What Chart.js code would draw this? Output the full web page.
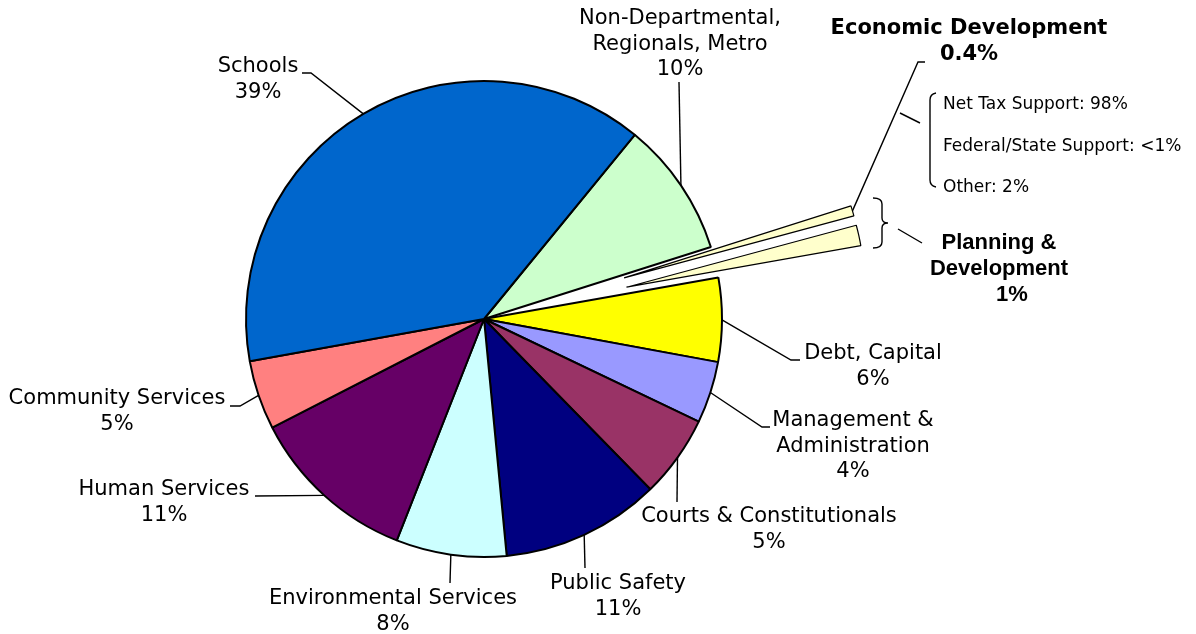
<!DOCTYPE html>
<html>
<head>
<meta charset="utf-8">
<script src="https://cdn.jsdelivr.net/npm/chart.js@4.4.0/dist/chart.umd.min.js"></script>
<style>
  body { margin: 0; background: #fff; }
</style>
</head>
<body>
<canvas id="budgetPie" width="1196" height="634"></canvas>
<script>
// slices, clockwise starting at Non-Departmental
var categories = ['Non-Departmental, Regionals, Metro', 'Economic Development', 'Planning & Development',
  'Debt, Capital', 'Management & Administration', 'Courts & Constitutionals', 'Public Safety',
  'Environmental Services', 'Human Services', 'Community Services', 'Schools'];
var shares = [9.2, 0.7, 1.4, 5.7, 4.2, 5.6, 10.8, 7.5, 11.5, 4.7, 38.8];
var shareLabels = ['10%', '0.4%', '1%', '6%', '4%', '5%', '11%', '8%', '11%', '5%', '39%'];
var sliceColors = ['#CCFFCC', '#FFFFCC', '#FFFFCC', '#FFFF00', '#9999FF', '#993366', '#000080',
  '#CCFFFF', '#660066', '#FF8080', '#0066CC'];
var pulledOut = [0, 1, 1, 0, 0, 0, 0, 0, 0, 0, 0];
var econSources = ['Net Tax Support: 98%', 'Federal/State Support: <1%', 'Other: 2%'];

var PULL = 146;
var normalFont = '21px "DejaVu Sans"';

// label placement: i = slice index, lines of text, text centre, leader bends
var labelLayout = [
  { i: 10, lines: ['Schools', shareLabels[10]], x: 258, y: 67, path: [[311, 73], [302, 73]] },
  { i: 0, lines: ['Non-Departmental,', 'Regionals, Metro', shareLabels[0]], x: 680, y: 19, path: [[679, 82]] },
  { i: 1, lines: ['Economic Development', shareLabels[1]], x: 969, y: 29, bold: true, path: [[918, 62], [925, 62]] },
  { i: 3, lines: ['Debt, Capital', shareLabels[3]], x: 873, y: 354, path: [[791, 360], [800, 360]] },
  { i: 4, lines: ['Management &', 'Administration', shareLabels[4]], x: 853, y: 421, path: [[762, 427], [770, 427]] },
  { i: 5, lines: ['Courts & Constitutionals', shareLabels[5]], x: 769, y: 517, path: [[677, 502]] },
  { i: 6, lines: ['Public Safety', shareLabels[6]], x: 618, y: 584, path: [[585, 568]] },
  { i: 7, lines: ['Environmental Services', shareLabels[7]], x: 393, y: 599, path: [[450, 583]] },
  { i: 8, lines: ['Human Services', shareLabels[8]], x: 164, y: 490, path: [[255, 496]] },
  { i: 9, lines: ['Community Services', shareLabels[9]], x: 117, y: 399, path: [[240, 406], [230, 406]] }
];

function midDir(arc) {
  var p = arc.getProps(['startAngle', 'endAngle'], true);
  var mid = (p.startAngle + p.endAngle) / 2;
  return [Math.cos(mid), Math.sin(mid)];
}

// pulled-out slices: let the arc element draw itself, shifted along its mid angle
var pullPlugin = {
  id: 'pullSlices',
  afterUpdate: function (chart) {
    var meta = chart.getDatasetMeta(0);
    meta.data.forEach(function (arc, i) {
      if (!pulledOut[i] || arc._pulled) return;
      arc._pulled = true;
      var baseDraw = arc.draw;
      arc.draw = function (c, area) {
        var d = midDir(this);
        c.save();
        c.translate(d[0] * PULL, d[1] * PULL);
        baseDraw.call(this, c, area);
        c.restore();
      };
    });
  }
};

var labelPlugin = {
  id: 'sliceLabels',
  afterDatasetsDraw: function (chart) {
    var ctx = chart.ctx;
    var meta = chart.getDatasetMeta(0);
    ctx.save();
    ctx.strokeStyle = '#000';
    ctx.fillStyle = '#000';
    ctx.lineWidth = 1.4;
    ctx.textAlign = 'center';
    ctx.textBaseline = 'middle';

    labelLayout.forEach(function (l) {
      var arc = meta.data[l.i];
      var p = arc.getProps(['x', 'y', 'outerRadius'], true);
      var d = midDir(arc);
      var r = p.outerRadius + (pulledOut[l.i] ? PULL : 0);
      ctx.beginPath();
      ctx.moveTo(p.x + d[0] * r, p.y + d[1] * r);
      l.path.forEach(function (pt) { ctx.lineTo(pt[0], pt[1]); });
      ctx.stroke();

      ctx.font = l.bold ? 'bold 21px "DejaVu Sans"' : normalFont;
      l.lines.forEach(function (t, k) {
        ctx.fillText(t, l.x, l.y + k * 25.5);
      });
    });

    // sources of economic development funding
    ctx.beginPath();
    ctx.moveTo(900, 113);
    ctx.lineTo(920, 123);
    ctx.moveTo(936, 93);
    ctx.quadraticCurveTo(930, 94, 930, 100);
    ctx.lineTo(930, 180);
    ctx.quadraticCurveTo(930, 186, 936, 187);
    ctx.stroke();
    ctx.font = '17px "DejaVu Sans"';
    ctx.textAlign = 'left';
    econSources.forEach(function (t, k) {
      ctx.fillText(t, 943, 105 + k * 41.5);
    });

    // planning & development brace
    ctx.beginPath();
    ctx.moveTo(873, 198);
    ctx.quadraticCurveTo(882, 198, 882, 204);
    ctx.lineTo(882, 218);
    ctx.quadraticCurveTo(882, 223, 888, 223);
    ctx.quadraticCurveTo(882, 223, 882, 228);
    ctx.lineTo(882, 242);
    ctx.quadraticCurveTo(882, 248, 873, 248);
    ctx.moveTo(898, 229);
    ctx.lineTo(922, 243);
    ctx.stroke();

    ctx.textAlign = 'center';
    ctx.font = 'bold 22px "Liberation Sans"';
    ['Planning &', 'Development', shareLabels[2]].forEach(function (t, k) {
      ctx.fillText(t, k === 2 ? 1012 : 999, 243 + k * 26);
    });
    ctx.restore();
  }
};

var ctx = document.getElementById('budgetPie');
var budgetChart = new Chart(ctx, {
  type: 'pie',
  data: {
    labels: categories,
    datasets: [{
      data: shares,
      backgroundColor: sliceColors,
      borderColor: '#000',
      borderWidth: pulledOut.map(function (p) { return p ? 1.2 : 2; })
    }]
  },
  options: {
    responsive: false,
    animation: false,
    events: [],
    rotation: 39.3,
    radius: 238,
    layout: { padding: { left: 0, right: 228, top: 4, bottom: 0 } },
    plugins: {
      legend: { display: false },
      tooltip: { enabled: false }
    }
  },
  plugins: [pullPlugin, labelPlugin]
});
</script>
</body>
</html>
